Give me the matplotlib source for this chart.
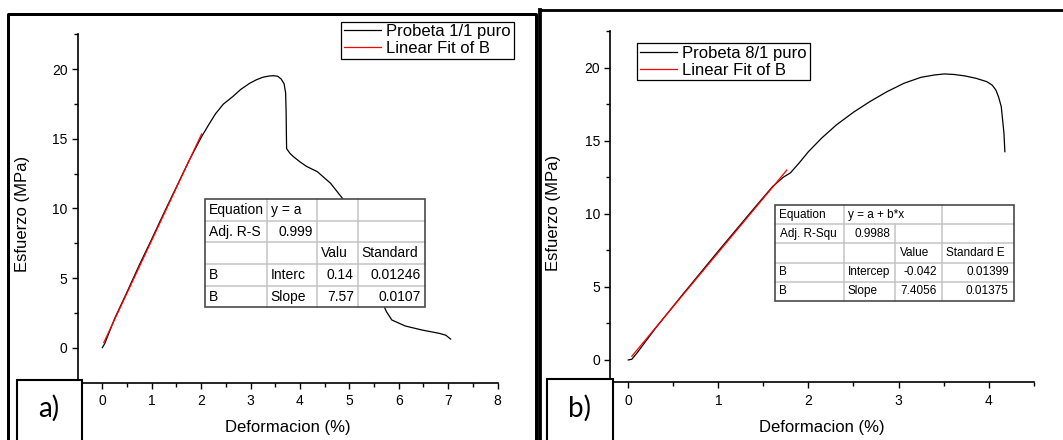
import matplotlib
matplotlib.use("Agg")
import matplotlib.pyplot as plt
from matplotlib.patches import Rectangle
from matplotlib.lines import Line2D
from matplotlib.ticker import MultipleLocator
from matplotlib.transforms import Affine2D

plt.rcParams['font.family'] = ['Liberation Sans', 'DejaVu Sans']

# ---- Probeta 1/1 puro: esfuerzo vs deformación ----
strain_a = [0.0, 0.05, 0.25, 0.5, 0.75, 1.0, 1.25, 1.5, 1.75, 2.0, 2.15, 2.29,
            2.45, 2.64, 2.8, 2.98, 3.12, 3.25, 3.38, 3.46, 3.55, 3.62, 3.68,
            3.71, 3.72, 3.725, 3.73, 3.8, 3.87, 4.0, 4.14, 4.35, 4.62, 4.86,
            5.05, 5.3, 5.5, 5.65, 5.75, 5.86, 6.13, 6.47, 6.82, 6.95, 7.05]
stress_a = [0.0, 0.3, 2.1, 4.0, 5.95, 7.8, 9.7, 11.55, 13.4, 15.1, 16.0, 16.8,
            17.5, 18.04, 18.55, 18.99, 19.25, 19.43, 19.52, 19.54, 19.5, 19.3,
            18.95, 18.3, 17.0, 15.5, 14.3, 13.95, 13.72, 13.35, 13.01, 12.65,
            11.81, 10.73, 9.5, 7.0, 4.8, 3.4, 2.59, 1.99, 1.56, 1.27, 1.03,
            0.9, 0.62]
fit_a_intercept = 0.14
fit_a_slope = 7.57
fit_a_span = [0.03, 2.01]
legend_a = ["Probeta 1/1 puro", "Linear Fit of B"]
table_a = [["Equation", "y = a", "", ""],
           ["Adj. R-S", "0.999", "", ""],
           ["", "", "Valu", "Standard"],
           ["B", "Interc", "0.14", "0.01246"],
           ["B", "Slope", "7.57", "0.0107"]]

# ---- Probeta 8/1 puro: esfuerzo vs deformación ----
strain_b = [0.0, 0.04, 0.1, 0.3, 0.6, 1.0, 1.4, 1.6, 1.72, 1.8, 1.9, 2.0,
            2.15, 2.31, 2.5, 2.68, 2.87, 3.06, 3.25, 3.4, 3.51, 3.62, 3.74,
            3.86, 3.98, 4.04, 4.08, 4.11, 4.14, 4.17, 4.18]
stress_b = [0.0, 0.05, 0.5, 2.15, 4.45, 7.45, 10.4, 11.85, 12.5, 12.8, 13.5,
            14.25, 15.2, 16.08, 16.95, 17.67, 18.35, 18.93, 19.34, 19.5, 19.57,
            19.53, 19.43, 19.27, 19.04, 18.8, 18.47, 18.0, 17.33, 15.51, 14.25]
fit_b_intercept = -0.042
fit_b_slope = 7.4056
fit_b_span = [0.04, 1.76]
legend_b = ["Probeta 8/1 puro", "Linear Fit of B"]
table_b = [["Equation", "y = a + b*x", "", ""],
           ["Adj. R-Squ", "0.9988", "", ""],
           ["", "", "Value", "Standard E"],
           ["B", "Intercep", "-0.042", "0.01399"],
           ["B", "Slope", "7.4056", "0.01375"]]

x_label = "Deformacion (%)"
y_label = "Esfuerzo (MPa)"

W, H = 1063, 440
fig = plt.figure(figsize=(W / 100, H / 100), dpi=100)
fig.patch.set_facecolor("white")
# pixel coordinates, origin at the top-left corner of the figure
PX = Affine2D().scale(1 / W, -1 / H).translate(0, 1) + fig.transFigure


def rect_px(left, top, right, bottom):
    return [left / W, 1 - bottom / H, (right - left) / W, (bottom - top) / H]


def make_panel(rect, xlim, ylim):
    ax = fig.add_axes(rect)
    ax.set_xlim(*xlim)
    ax.set_ylim(*ylim)
    for s in ("top", "right"):
        ax.spines[s].set_visible(False)
    for s in ("left", "bottom"):
        ax.spines[s].set_linewidth(1.2)
    ax.xaxis.set_major_locator(MultipleLocator(1))
    ax.xaxis.set_minor_locator(MultipleLocator(0.5))
    ax.yaxis.set_major_locator(MultipleLocator(5))
    ax.yaxis.set_minor_locator(MultipleLocator(2.5))
    ax.tick_params(which="major", direction="out", length=4.5, width=1.0,
                   labelsize=10)
    ax.tick_params(which="minor", direction="out", length=2.6, width=1.0)
    ax.tick_params(axis="x", which="major", pad=4.0)
    ax.tick_params(axis="y", which="major", pad=2.8)
    ax.set_xlabel(x_label, fontsize=12)
    ax.set_ylabel(y_label, fontsize=12)
    return ax


def fit_line(ax, intercept, slope, span):
    xs = list(span)
    ys = [intercept + slope * x for x in xs]
    return ax.plot(xs, ys, color="#ff0000", lw=0.9, zorder=3)[0]


def draw_table(cells, col_edges, top, bottom, fontsize, text_pad, num_pad,
               open_edges=()):
    """Draw a results grid; open_edges lists (row, edge) dividers left out
    so that long text can run into the empty neighbouring cell."""
    n = len(cells)
    row_h = (bottom - top) / n
    left, right = col_edges[0], col_edges[-1]
    fig.add_artist(Rectangle((left, top), right - left, bottom - top,
                             transform=PX, facecolor="white",
                             edgecolor="none", zorder=5))
    for k, x in enumerate(col_edges[1:-1], start=1):
        for r in range(n):
            if (r, k) in open_edges:
                continue
            fig.add_artist(Line2D([x, x], [top + r * row_h, top + (r + 1) * row_h],
                                  transform=PX, color="#c4c4c4", lw=1.1,
                                  zorder=6))
    for i in range(1, n):
        y = top + i * row_h
        fig.add_artist(Line2D([left, right], [y, y], transform=PX,
                              color="#c4c4c4", lw=1.1, zorder=6))
    fig.add_artist(Rectangle((left, top), right - left, bottom - top,
                             transform=PX, fill=False, edgecolor="#4a4a4a",
                             lw=1.2, zorder=7))
    for r, row in enumerate(cells):
        yc = top + (r + 0.5) * row_h
        for c, txt in enumerate(row):
            if not txt:
                continue
            try:
                float(txt)
                x, ha = col_edges[c + 1] - num_pad, "right"
            except ValueError:
                x, ha = col_edges[c] + text_pad, "left"
            fig.text(x, yc, txt, transform=PX, ha=ha, va="center",
                     fontsize=fontsize, zorder=8)


def frame_line(xs, ys, lw_px):
    fig.add_artist(Line2D(xs, ys, transform=PX, color="black",
                          lw=lw_px * 0.72, solid_capstyle="projecting",
                          zorder=10))


def corner_tag(left, top, right, text, cx, cy):
    fig.add_artist(Rectangle((left, top), right - left, H + 10 - top,
                             transform=PX, facecolor="white",
                             edgecolor="black", lw=1.5, zorder=9))
    fig.text(cx, cy, text, transform=PX, ha="center", va="center",
             fontsize=20, family=["Lato", "DejaVu Sans"], zorder=11)


def legend(ax, handles, labels, x, y):
    leg = ax.legend(handles, labels, loc="upper left",
                    bbox_to_anchor=(x / W, 1 - y / H),
                    bbox_transform=fig.transFigure, borderaxespad=0,
                    fontsize=12, frameon=True, fancybox=False,
                    edgecolor="black", framealpha=1, borderpad=0.15,
                    labelspacing=0.12, handlelength=2.2, handletextpad=0.35)
    leg.get_frame().set_linewidth(0.9)
    leg.set_zorder(12)


# ---------------- panel a ----------------
ax_a = make_panel(rect_px(77.6, 34.5, 497.6, 382.5), (-0.5, 8), (-2.5, 22.5))
line_a, = ax_a.plot(strain_a, stress_a, color="black", lw=0.9, zorder=2)
fit_a = fit_line(ax_a, fit_a_intercept, fit_a_slope, fit_a_span)
ax_a.yaxis.set_label_coords(30.4, 214.2, transform=PX)
ax_a.xaxis.set_label_coords(288.0, 420.0, transform=PX)
legend(ax_a, [line_a, fit_a], legend_a, 341.4, 21.7)
draw_table(table_a, [205, 267, 317, 358, 425], 199, 307.5, 10, 3.8, 4.2)

# ---------------- panel b ----------------
ax_b = make_panel(rect_px(610.2, 31.1, 1033.7, 381.9), (-0.2, 4.5), (-1.5, 22.5))
line_b, = ax_b.plot(strain_b, stress_b, color="black", lw=0.9, zorder=2)
fit_b = fit_line(ax_b, fit_b_intercept, fit_b_slope, fit_b_span)
ax_b.yaxis.set_label_coords(561.3, 212.5, transform=PX)
ax_b.xaxis.set_label_coords(821.5, 420.0, transform=PX)
legend(ax_b, [line_b, fit_b], legend_b, 637.4, 43.3)
draw_table(table_b, [775, 843.5, 895.3, 942, 1014], 205, 301, 8.5, 4.5, 5.2,
           open_edges={(0, 2)})

# ---------------- panel frames and tags ----------------
frame_line([8.3, 8.3, 535.5, 535.5], [H + 5, 14.0, 14.0, H + 5], 3.0)
frame_line([540.3, 540.3], [H + 5, 9.7], 3.8)
frame_line([540.3, W + 5], [9.7, 9.7], 2.8)
corner_tag(16.5, 380.0, 81.6, "a)", 48.7, 408.0)
corner_tag(547.0, 379.5, 612.6, "b)", 580.0, 408.0)

fig.savefig("out.png", dpi=100, facecolor="white")
